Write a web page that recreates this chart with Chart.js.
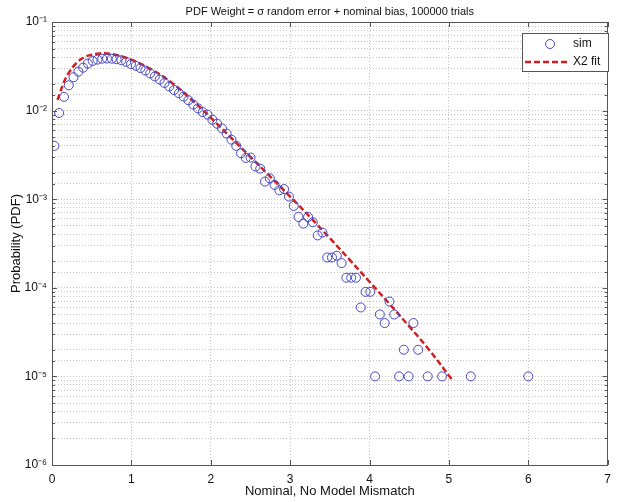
<!DOCTYPE html>
<html>
<head>
<meta charset="utf-8">
<script src="https://cdn.jsdelivr.net/npm/chart.js@4.4.1/dist/chart.umd.min.js"></script>
<style>
  html, body { margin: 0; padding: 0; background: #fff; }
</style>
</head>
<body>
<canvas id="pdfChart" width="618" height="502"></canvas>
<script>
// histogram bin centres (x) and probability per bin
var simX = [0.030, 0.090, 0.151, 0.211, 0.271, 0.332, 0.392, 0.452, 0.512, 0.573,
            0.633, 0.693, 0.754, 0.814, 0.874, 0.935, 0.995, 1.055, 1.115, 1.176,
            1.236, 1.296, 1.357, 1.417, 1.477, 1.538, 1.598, 1.658, 1.718, 1.779,
            1.839, 1.899, 1.960, 2.020, 2.080, 2.141, 2.201, 2.261, 2.321, 2.382,
            2.442, 2.502, 2.563, 2.623, 2.683, 2.744, 2.804, 2.864, 2.924, 2.985,
            3.045, 3.105, 3.166, 3.226, 3.286, 3.347, 3.407, 3.467, 3.527, 3.588,
            3.648, 3.708, 3.769, 3.829, 3.889, 3.950, 4.010, 4.070, 4.130, 4.191,
            4.251, 4.311, 4.372, 4.432, 4.492, 4.553, 4.613, 4.733, 4.914, 5.276,
            6.000];
var simP = [4.0e-3, 9.4e-3, 1.43e-2, 1.93e-2, 2.38e-2, 2.75e-2, 3.05e-2, 3.39e-2, 3.63e-2, 3.76e-2,
            3.85e-2, 3.87e-2, 3.85e-2, 3.80e-2, 3.70e-2, 3.55e-2, 3.35e-2, 3.20e-2, 3.02e-2, 2.83e-2,
            2.63e-2, 2.43e-2, 2.24e-2, 2.05e-2, 1.87e-2, 1.71e-2, 1.57e-2, 1.44e-2, 1.31e-2, 1.17e-2,
            1.06e-2, 9.6e-3, 9.0e-3, 7.9e-3, 7.1e-3, 6.3e-3, 5.5e-3, 4.7e-3, 4.0e-3, 3.3e-3,
            2.92e-3, 2.95e-3, 2.34e-3, 2.21e-3, 1.58e-3, 1.72e-3, 1.45e-3, 1.26e-3, 1.30e-3, 1.07e-3,
            8.4e-4, 6.3e-4, 5.3e-4, 6.3e-4, 5.5e-4, 3.9e-4, 4.2e-4, 2.2e-4, 2.2e-4, 2.3e-4,
            1.9e-4, 1.3e-4, 1.3e-4, 1.3e-4, 6e-5, 9e-5, 9e-5, 1e-5, 5e-5, 4e-5,
            7e-5, 5e-5, 1e-5, 2e-5, 1e-5, 4e-5, 2e-5, 1e-5, 1e-5, 1e-5,
            1e-5];

// chi-square fit curve
var fitX = [0.07, 0.1, 0.15, 0.2, 0.3, 0.4, 0.5, 0.6, 0.7, 0.8, 0.9, 1.0, 1.25, 1.5, 1.75,
            2.0, 2.25, 2.5, 2.75, 3.0, 3.25, 3.5, 3.75, 4.0, 4.25, 4.5, 4.75, 5.05];
var fitP = [1.32e-2, 1.58e-2, 2.09e-2, 2.57e-2, 3.39e-2, 3.98e-2, 4.27e-2, 4.42e-2, 4.42e-2, 4.27e-2,
            4.03e-2, 3.76e-2, 2.92e-2, 2.09e-2, 1.35e-2, 8.3e-3, 5.0e-3, 3.0e-3, 1.80e-3, 1.07e-3,
            6.3e-4, 3.63e-4, 2.07e-4, 1.17e-4, 6.6e-5, 3.67e-5, 2.0e-5, 8.9e-6];

var xTicks = [0, 1, 2, 3, 4, 5, 6, 7];
var yTickValues = [1e-6, 1e-5, 1e-4, 1e-3, 1e-2, 1e-1];
var yTickLabels = ['10\u207B\u2076', '10\u207B\u2075', '10\u207B\u2074', '10\u207B\u00B3', '10\u207B\u00B2', '10\u207B\u00B9'];

var titleText = 'PDF Weight = \u03C3 random error + nominal bias, 100000 trials';
var simColor = '#4848c4';
var fitColor = '#d41e1e';
var fontFam = '"Liberation Sans", Arial, sans-serif';

function isMajor(v) {
  var e = Math.log10(v);
  return Math.abs(e - Math.round(e)) < 1e-6;
}

var decorations = {
  id: 'decorations',
  beforeDraw: function(chart) {
    var ctx = chart.ctx;
    ctx.save();
    ctx.fillStyle = '#fff';
    ctx.fillRect(0, 0, chart.width, chart.height);
    ctx.restore();
  },
  afterDraw: function(chart) {
    var a = chart.chartArea, ctx = chart.ctx;
    var sx = chart.scales.x, sy = chart.scales.y;
    ctx.save();
    // box
    ctx.strokeStyle = '#555';
    ctx.lineWidth = 1;
    ctx.strokeRect(Math.round(a.left) + 0.5, Math.round(a.top) + 0.5,
                   Math.round(a.right - a.left) - 1, Math.round(a.bottom - a.top));
    // inward tick marks
    ctx.beginPath();
    xTicks.forEach(function(v) {
      var px = Math.round(sx.getPixelForValue(v)) + 0.5;
      ctx.moveTo(px, a.bottom); ctx.lineTo(px, a.bottom - 5);
      ctx.moveTo(px, a.top); ctx.lineTo(px, a.top + 5);
    });
    sy.ticks.forEach(function(t) {
      var py = Math.round(sy.getPixelForValue(t.value)) + 0.5;
      var len = isMajor(t.value) ? 5 : 3;
      ctx.moveTo(a.left, py); ctx.lineTo(a.left + len, py);
      ctx.moveTo(a.right, py); ctx.lineTo(a.right - len, py);
    });
    ctx.stroke();

    // title
    ctx.fillStyle = '#111';
    ctx.font = '11px ' + fontFam;
    ctx.textAlign = 'center';
    ctx.textBaseline = 'middle';
    ctx.fillText(titleText, (a.left + a.right) / 2, 12);

    // legend
    var lx = 522, ly = 33, lw = 86, lh = 38;
    ctx.fillStyle = '#fff';
    ctx.fillRect(lx, ly, lw, lh);
    ctx.strokeStyle = '#555';
    ctx.strokeRect(lx + 0.5, ly + 0.5, lw, lh);
    ctx.strokeStyle = simColor;
    ctx.lineWidth = 1;
    ctx.beginPath();
    ctx.arc(550, 44, 4.5, 0, Math.PI * 2);
    ctx.stroke();
    ctx.strokeStyle = fitColor;
    ctx.lineWidth = 2.5;
    ctx.setLineDash([6, 3]);
    ctx.beginPath();
    ctx.moveTo(525, 62); ctx.lineTo(568, 62);
    ctx.stroke();
    ctx.setLineDash([]);
    ctx.fillStyle = '#111';
    ctx.font = '12px ' + fontFam;
    ctx.textAlign = 'left';
    ctx.fillText('sim', 573, 44);
    ctx.fillText('X2 fit', 573, 62);
    ctx.restore();
  }
};

var ctx = document.getElementById('pdfChart');
new Chart(ctx, {
  type: 'scatter',
  data: {
    datasets: [{
      label: 'sim',
      data: simX.map(function(x, i) { return { x: x, y: simP[i] }; }),
      showLine: false,
      pointStyle: 'circle',
      pointRadius: 4.5,
      pointBorderWidth: 1,
      pointBorderColor: simColor,
      pointBackgroundColor: 'rgba(0,0,0,0)'
    }, {
      label: 'X2 fit',
      data: fitX.map(function(x, i) { return { x: x, y: fitP[i] }; }),
      showLine: true,
      borderColor: fitColor,
      borderWidth: 2.5,
      borderDash: [6, 3],
      pointRadius: 0,
      tension: 0.4
    }]
  },
  options: {
    responsive: false,
    animation: false,
    layout: { padding: { top: 22, right: 7, left: 0, bottom: 0 } },
    plugins: {
      legend: { display: false },
      tooltip: { enabled: false }
    },
    scales: {
      x: {
        type: 'linear',
        min: 0, max: 7,
        afterFit: function(s) { s.height = 37; },
        afterBuildTicks: function(s) { s.ticks = xTicks.map(function(v) { return { value: v }; }); },
        ticks: { padding: 7, color: '#111', font: { size: 12, family: fontFam } },
        grid: { color: '#c4c4c4', drawTicks: false },
        border: { display: false, dash: [1, 2] },
        title: { display: true, text: 'Nominal, No Model Mismatch', color: '#111',
                 font: { size: 13, family: fontFam }, padding: { top: 0, bottom: 3 } }
      },
      y: {
        type: 'logarithmic',
        min: 1e-6, max: 1e-1,
        afterFit: function(s) { s.width = 52; },
        ticks: {
          autoSkip: false, padding: 5, color: '#111', font: { size: 12, family: fontFam },
          callback: function(v) {
            for (var i = 0; i < yTickValues.length; i++) {
              if (Math.abs(yTickValues[i] - v) / yTickValues[i] < 1e-6) return yTickLabels[i];
            }
            return '';
          }
        },
        grid: { color: '#c4c4c4', drawTicks: false },
        border: { display: false, dash: [1, 2] },
        title: { display: true, text: 'Probability (PDF)', color: '#111',
                 font: { size: 13, family: fontFam }, padding: { top: 9, bottom: 0 } }
      }
    }
  },
  plugins: [decorations]
});
</script>
</body>
</html>
